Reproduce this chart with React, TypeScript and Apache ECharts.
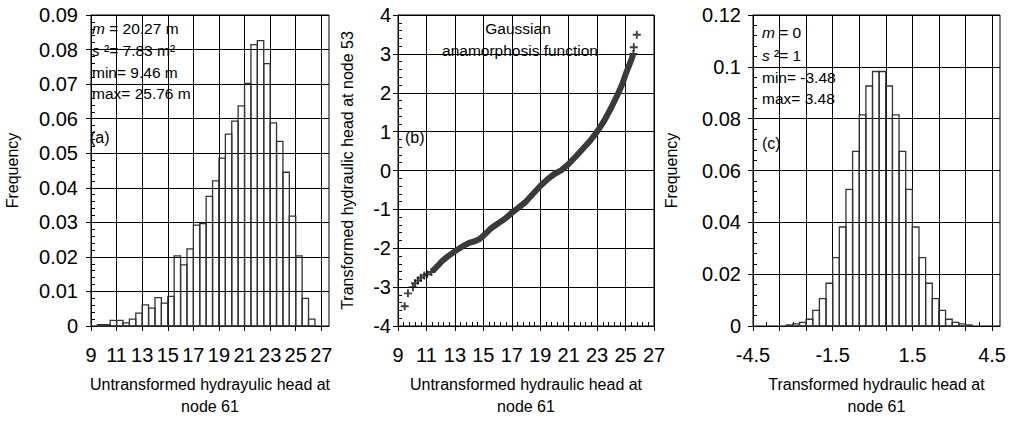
import React, { useEffect, useRef } from "react";
import * as echarts from "echarts";

const FONT = "'Liberation Sans', Arial, Helvetica, sans-serif";

// Panel (a): histogram of untransformed head (bin start, bin end, frequency)
const binStartA = [9.5, 10, 10.5, 11, 11.5, 12, 12.5, 13, 13.5, 14, 14.5, 15, 15.5, 16, 16.5, 17, 17.5, 18, 18.5, 19, 19.5, 20, 20.5, 21, 21.5, 22, 22.5, 23, 23.5, 24, 24.5, 25, 25.5, 26];
const freqA = [0.0004, 0.0004, 0.0016, 0.0016, 0.0009, 0.002, 0.0037, 0.0061, 0.0052, 0.0082, 0.0066, 0.0086, 0.0203, 0.0177, 0.0223, 0.0292, 0.0296, 0.0375, 0.042, 0.0486, 0.0555, 0.0593, 0.0637, 0.0702, 0.0814, 0.0826, 0.0759, 0.0588, 0.0534, 0.0445, 0.0318, 0.0203, 0.008, 0.002];
const binWidthA = 0.5;
const xTicksA = [9, 11, 13, 15, 17, 19, 21, 23, 25, 27];

// Panel (b): Gaussian anamorphosis function
const denseB = [
  [11.5, -2.56], [11.8, -2.45], [12.1, -2.33], [12.5, -2.21], [13.0, -2.08], [13.5, -1.96],
  [14.0, -1.86], [14.4, -1.82], [14.7, -1.77], [15.0, -1.68], [15.5, -1.5], [16.0, -1.37],
  [16.5, -1.25], [17.0, -1.09], [17.5, -0.95], [18.0, -0.8], [18.5, -0.6], [19.0, -0.4],
  [19.5, -0.23], [20.0, -0.09], [20.5, 0.01], [21.0, 0.17], [21.5, 0.36], [22.0, 0.56],
  [22.5, 0.76], [23.0, 1.0], [23.5, 1.28], [24.0, 1.62], [24.5, 2.0], [24.8, 2.25],
  [25.0, 2.47], [25.2, 2.66], [25.4, 2.84], [25.5, 2.95]
];
const sparseB = [
  [9.47, -3.49], [9.7, -3.16], [10.05, -3.0], [10.2, -2.9], [10.4, -2.83], [10.6, -2.76],
  [10.85, -2.7], [11.05, -2.67], [11.35, -2.61], [25.55, 3.0], [25.58, 3.17], [25.79, 3.49]
];
const xTicksB = [9, 11, 13, 15, 17, 19, 21, 23, 25, 27];
const yTicksB = [-4, -3, -2, -1, 0, 1, 2, 3, 4];

// Panel (c): histogram of transformed head
const binStartC = [-3.25, -3, -2.75, -2.5, -2.25, -2, -1.75, -1.5, -1.25, -1, -0.75, -0.5, -0.25, 0, 0.25, 0.5, 0.75, 1, 1.25, 1.5, 1.75, 2, 2.25, 2.5, 2.75, 3, 3.25, 3.5];
const freqC = [0.0004, 0.0008, 0.0014, 0.0026, 0.006, 0.0106, 0.0165, 0.0264, 0.0382, 0.0527, 0.0674, 0.0815, 0.0926, 0.0982, 0.0982, 0.0926, 0.0815, 0.0674, 0.0527, 0.0382, 0.0264, 0.0165, 0.0106, 0.006, 0.0026, 0.0014, 0.0008, 0.0004];
const binWidthC = 0.25;
const xTicksC = [-4.5, -3.5, -2.5, -1.5, -0.5, 0.5, 1.5, 2.5, 3.5, 4.5];
const xLabelsC = [-4.5, -1.5, 1.5, 4.5];
const xMinorC = [-4, -3, -2, -1, 0, 1, 2, 3, 4];

const minorFrom = (ticks: number[], n: number) => {
  const out: number[] = [];
  for (let i = 0; i < ticks.length - 1; i++) {
    const step = (ticks[i + 1] - ticks[i]) / n;
    for (let k = 1; k < n; k++) out.push(+(ticks[i] + k * step).toFixed(4));
  }
  return out;
};

const fmt = (v: number) => String(+v.toFixed(4)).replace("\u2212", "-");

const barItem = (params: any, api: any) => {
  const x0 = api.value(0);
  const x1 = api.value(1);
  const y = api.value(2);
  const p0 = api.coord([x0, y]);
  const p1 = api.coord([x1, 0]);
  return {
    type: "rect",
    shape: { x: p0[0], y: p0[1], width: p1[0] - p0[0], height: p1[1] - p0[1] },
    style: { fill: "none", stroke: "#333", lineWidth: 1.3 },
  };
};

const tickLabel = { fontSize: 20, color: "#000", fontFamily: FONT, formatter: fmt };
const nameStyle = { fontSize: 16, color: "#000", fontFamily: FONT, lineHeight: 22 };
const blackLine = { lineStyle: { color: "#000", width: 1 } };

function mainX(grid: number, min: number, max: number, ticks: number[], labels: number[], name: string) {
  return {
    type: "value", gridIndex: grid, min, max, position: "bottom",
    axisLine: { show: true, onZero: false, ...blackLine },
    axisTick: { show: true, length: 5, customValues: ticks, ...blackLine },
    axisLabel: { ...tickLabel, margin: 19, customValues: labels },
    splitLine: { show: true, ...blackLine },
    name, nameLocation: "middle", nameGap: 47, nameTextStyle: nameStyle,
  };
}
function minorX(grid: number, min: number, max: number, ticks: number[]) {
  return {
    type: "value", gridIndex: grid, min, max, position: "bottom",
    axisLine: { show: false, onZero: false },
    axisTick: { show: true, inside: true, length: 4, customValues: ticks, ...blackLine },
    axisLabel: { show: false },
    splitLine: { show: false },
  };
}
function mainY(grid: number, min: number, max: number, interval: number, name: string, gap: number, margin: number) {
  return {
    type: "value", gridIndex: grid, min, max, interval, position: "left",
    axisLine: { show: true, onZero: false, ...blackLine },
    axisTick: { show: true, length: 5, ...blackLine },
    axisLabel: { ...tickLabel, margin },
    splitLine: { show: true, ...blackLine },
    name, nameLocation: "middle", nameGap: gap, nameTextStyle: nameStyle,
  };
}
function minorY(grid: number, min: number, max: number, interval: number, split: number) {
  return {
    type: "value", gridIndex: grid, min, max, interval, position: "left",
    axisLine: { show: false, onZero: false },
    axisTick: { show: true, inside: true, length: 4, ...blackLine },
    minorTick: { show: true, splitNumber: split, length: 4, ...blackLine },
    axisLabel: { show: false },
    splitLine: { show: false },
  };
}

const annText = (x: number, y: number, text: string, align = "left", size = 15.5) => ({
  type: "text", x, y, silent: true,
  style: {
    text, fill: "#000", fontSize: size, fontFamily: FONT, align, verticalAlign: "middle",
    rich: { i: { fontStyle: "italic", fontSize: size, fontFamily: FONT, fill: "#000" } },
  },
});

export default function App() {
  const ref = useRef<HTMLDivElement>(null);
  useEffect(() => {
    if (!ref.current) return;
    const chart = echarts.init(ref.current, undefined, { renderer: "svg" });
    const dataA = binStartA.map((s, i) => [s, s + binWidthA, freqA[i]]);
    const dataC = binStartC.map((s, i) => [s, s + binWidthC, freqC[i]]);
    const plus = "path://M3.8,0H6.2V3.8H10V6.2H6.2V10H3.8V6.2H0V3.8H3.8Z";
    chart.setOption({
      animation: false,
      backgroundColor: "#fff",
      grid: [
        { left: 85, top: 15, width: 244, height: 317, show: true, borderColor: "#000", borderWidth: 1, backgroundColor: "transparent" },
        { left: 398, top: 15, width: 256, height: 317, show: true, borderColor: "#000", borderWidth: 1, backgroundColor: "transparent" },
        { left: 753, top: 15, width: 247, height: 317, show: true, borderColor: "#000", borderWidth: 1, backgroundColor: "transparent" },
      ],
      xAxis: [
        mainX(0, 9, 27.6, xTicksA, xTicksA, "Untransformed hydrayulic head at\nnode 61"),
        mainX(1, 9, 27, xTicksB, xTicksB, "Untransformed hydraulic head at\nnode 61"),
        minorX(1, 9, 27, minorFrom(xTicksB, 5)),
        mainX(2, -4.5, 4.8, xTicksC, xLabelsC, "Transformed hydraulic head at\nnode 61"),
        minorX(2, -4.5, 4.8, xMinorC),
      ],
      yAxis: [
        mainY(0, 0, 0.09, 0.01, "Frequency", 68, 13),
        minorY(0, 0, 0.09, 0.01, 5),
        mainY(1, yTicksB[0], yTicksB[yTicksB.length - 1], 1, "Transformed hydraulic head at node 53", 40, 7),
        minorY(1, yTicksB[0], yTicksB[yTicksB.length - 1], 1, 5),
        mainY(2, 0, 0.12, 0.02, "Frequency", 71, 12),
        minorY(2, 0, 0.12, 0.02, 5),
      ],
      series: [
        { type: "custom", xAxisIndex: 0, yAxisIndex: 0, renderItem: barItem, data: dataA, encode: { x: [0, 1], y: 2 } },
        {
          type: "line", xAxisIndex: 1, yAxisIndex: 2, data: denseB, showSymbol: false, symbol: "none",
          lineStyle: { color: "#3a3a3a", width: 6, cap: "round", join: "round" },
        },
        {
          type: "scatter", xAxisIndex: 1, yAxisIndex: 2, data: sparseB, symbol: plus, symbolSize: 8,
          itemStyle: { color: "#111" },
        },
        { type: "custom", xAxisIndex: 3, yAxisIndex: 4, renderItem: barItem, data: dataC, encode: { x: [0, 1], y: 2 } },
      ],
      graphic: [
        annText(92, 28, "{i|m} = 20.27 m"),
        annText(92, 50, "{i|s} ²= 7.83 m²"),
        annText(92, 72, "min= 9.46 m"),
        annText(92, 93, "max= 25.76 m"),
        annText(90, 137, "(a)", "left", 16),
        annText(518, 28, "Gaussian", "center"),
        annText(520, 50, "anamorphosis function", "center"),
        annText(405, 137, "(b)", "left", 16),
        annText(762, 32, "{i|m} = 0"),
        annText(762, 55, "{i|s} ²= 1"),
        annText(762, 77, "min= -3.48"),
        annText(762, 98, "max= 3.48"),
        annText(762, 143, "(c)", "left", 16),
      ],
    });
    return () => chart.dispose();
  }, []);
  return <div ref={ref} style={{ position: "fixed", left: 0, top: 0, width: 1013, height: 422, background: "#fff" }} />;
}
